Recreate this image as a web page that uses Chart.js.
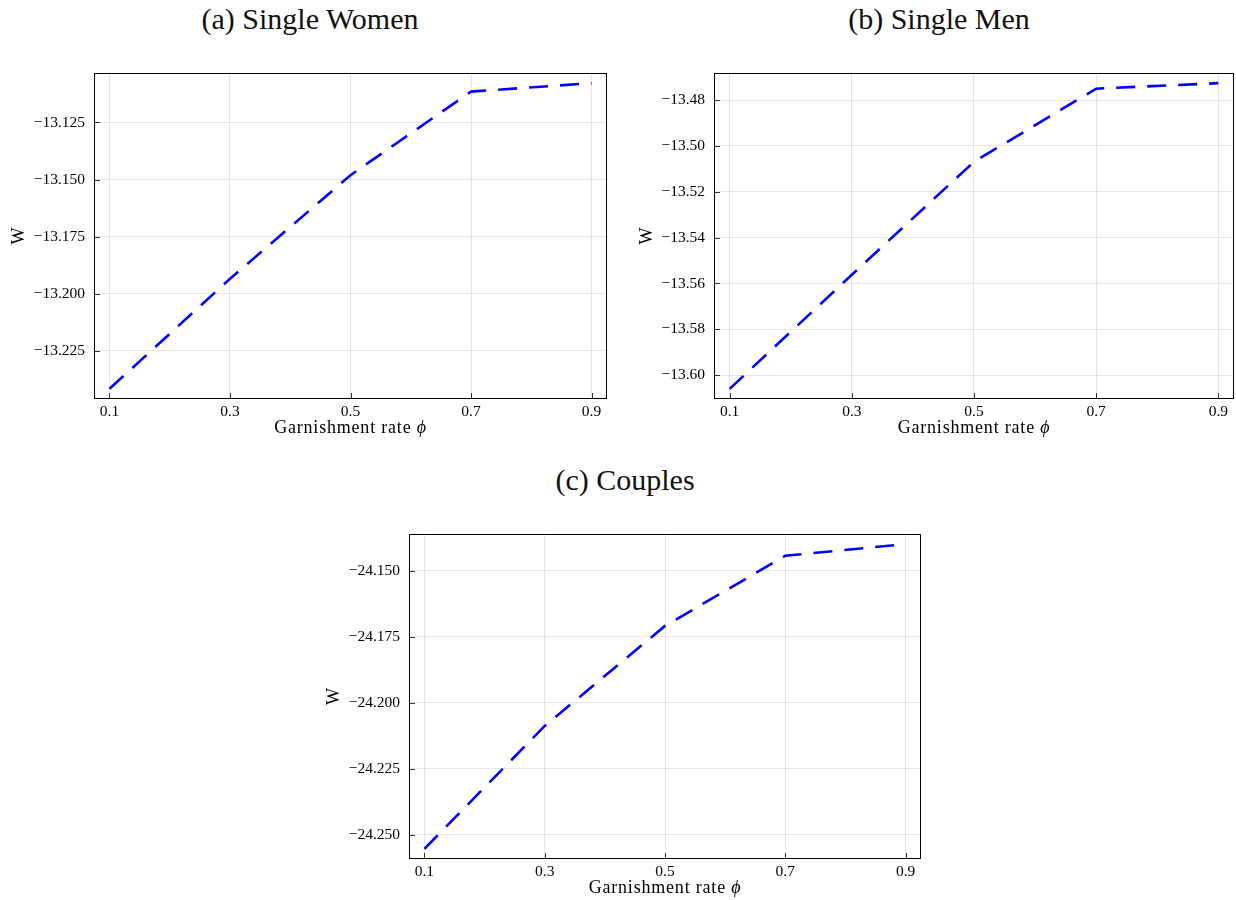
<!DOCTYPE html>
<html>
<head>
<meta charset="utf-8">
<script src="https://cdn.jsdelivr.net/npm/chart.js@4.4.1/dist/chart.umd.min.js"></script>
<style>
  html, body { margin: 0; padding: 0; background: #fff; }
  body { position: relative; width: 1236px; height: 900px; overflow: hidden; }
  canvas { position: absolute; }
  .panel-title {
    position: absolute; width: 400px; margin-left: -200px;
    text-align: center; font-family: 'Liberation Serif', serif;
    font-size: 30px; line-height: 36px; color: #111;
  }
</style>
</head>
<body>
<div class="panel-title" style="left:310px; top:1px;">(a) Single Women</div>
<div class="panel-title" style="left:939px; top:1px;">(b) Single Men</div>
<div class="panel-title" style="left:625px; top:462px;">(c) Couples</div>

<canvas id="women" width="620" height="385" style="left:0; top:60px;"></canvas>
<canvas id="men" width="616" height="385" style="left:620px; top:60px;"></canvas>
<canvas id="couples" width="620" height="378" style="left:310px; top:521px;"></canvas>

<script>
// garnishment rates on the x axis
const phi = [0.1, 0.3, 0.5, 0.7, 0.9];
const phiTicks = [0.1, 0.3, 0.5, 0.7, 0.9];

// welfare W for each household type
const womenW = [-13.2417, -13.1935, -13.1481, -13.1115, -13.1078];
const menW = [-13.6060, -13.5562, -13.5069, -13.4750, -13.4726];
const couplesW = [-24.2554, -24.2088, -24.1709, -24.1443, -24.1399];

const womenTicks = [-13.225, -13.200, -13.175, -13.150, -13.125];
const menTicks = [-13.60, -13.58, -13.56, -13.54, -13.52, -13.50, -13.48];
const couplesTicks = [-24.250, -24.225, -24.200, -24.175, -24.150];

const SERIF = "'Liberation Serif', 'Times New Roman', serif";

function fmt(v, d) {
  const s = Math.abs(v).toFixed(d);
  return v < 0 ? '\u2212' + s : s;
}

// widen a range by 3% on each side, like the plotting defaults
function padded(vals) {
  const lo = Math.min(...vals), hi = Math.max(...vals);
  const p = (hi - lo) * 0.03;
  return [lo - p, hi + p];
}

// fixed axis sizes, and no extra room reserved for overhanging labels
function fixSize(s, dim, size) {
  s[dim] = size;
  s.paddingTop = s.paddingBottom = s.paddingLeft = s.paddingRight = 0;
}

// box frame, inward tick marks and the axis labels
const frameAndLabels = {
  id: 'frameAndLabels',
  afterDraw(chart, args, opts) {
    const { ctx, chartArea: a, scales } = chart;
    ctx.save();
    ctx.strokeStyle = '#333';
    ctx.lineWidth = 1;
    ctx.beginPath();
    scales.y.ticks.forEach(t => {
      const y = Math.round(scales.y.getPixelForValue(t.value)) + 0.5;
      ctx.moveTo(a.left, y); ctx.lineTo(a.left + 5, y);
    });
    scales.x.ticks.forEach(t => {
      const x = Math.round(scales.x.getPixelForValue(t.value)) + 0.5;
      ctx.moveTo(x, a.bottom); ctx.lineTo(x, a.bottom - 5);
    });
    ctx.stroke();

    ctx.strokeStyle = '#000';
    ctx.strokeRect(Math.round(a.left) - 0.5, Math.round(a.top) - 0.5,
      Math.round(a.right - a.left) + 1, Math.round(a.bottom - a.top) + 1);

    // x label: roman text followed by an italic phi
    ctx.fillStyle = '#000';
    ctx.textBaseline = 'middle';
    ctx.letterSpacing = '0.8px';
    const roman = '18px ' + SERIF;
    const ital = 'italic 18px ' + SERIF;
    ctx.font = roman;
    const w1 = ctx.measureText(opts.xText).width;
    ctx.font = ital;
    const w2 = ctx.measureText(opts.xSym).width;
    let x0 = (a.left + a.right) / 2 - (w1 + w2) / 2;
    const yl = a.bottom + 30;
    ctx.textAlign = 'left';
    ctx.font = roman;
    ctx.fillText(opts.xText, x0, yl);
    ctx.font = ital;
    ctx.fillText(opts.xSym, x0 + w1, yl);

    // y label sits a fixed gap left of the widest tick label
    ctx.font = '15.5px ' + SERIF;
    ctx.letterSpacing = '0px';
    let widest = 0;
    scales.y.ticks.forEach(t => {
      widest = Math.max(widest, ctx.measureText(t.label).width);
    });
    const xl = a.left - 10 - widest - 14;
    ctx.font = roman;
    ctx.translate(xl, (a.top + a.bottom) / 2);
    ctx.rotate(-Math.PI / 2);
    ctx.textAlign = 'center';
    ctx.fillText(opts.yText, 0, 0);
    ctx.restore();
  }
};

function makeChart(id, values, yTicks, decimals, layout) {
  const yr = padded(values);
  const xr = padded(phi);
  return new Chart(document.getElementById(id), {
    type: 'line',
    data: {
      datasets: [{
        data: phi.map((x, i) => ({ x: x, y: values[i] })),
        borderColor: '#0000ff',
        borderWidth: 2.6,
        borderDash: [19, 12],
        pointRadius: 0,
        tension: 0,
        fill: false
      }]
    },
    options: {
      responsive: false,
      animation: false,
      devicePixelRatio: 1,
      layout: { padding: layout.padding },
      plugins: {
        legend: { display: false },
        tooltip: { enabled: false },
        frameAndLabels: { xText: 'Garnishment rate ', xSym: '\u03d5', yText: 'W' }
      },
      scales: {
        x: {
          type: 'linear',
          min: xr[0], max: xr[1],
          afterBuildTicks: s => { s.ticks = phiTicks.map(v => ({ value: v })); },
          afterFit: s => fixSize(s, 'height', layout.xHeight),
          grid: { color: 'rgba(0,0,0,0.1)', drawTicks: false },
          border: { display: false },
          ticks: {
            padding: 5,
            color: '#000',
            maxRotation: 0,
            font: { family: SERIF, size: 15.5 },
            callback: v => v.toFixed(1)
          }
        },
        y: {
          min: yr[0], max: yr[1],
          afterBuildTicks: s => { s.ticks = yTicks.map(v => ({ value: v })); },
          afterFit: s => fixSize(s, 'width', layout.yWidth),
          grid: { color: 'rgba(0,0,0,0.1)', drawTicks: false },
          border: { display: false },
          ticks: {
            padding: 10,
            color: '#000',
            font: { family: SERIF, size: 15.5 },
            callback: v => fmt(v, decimals)
          }
        }
      }
    },
    plugins: [frameAndLabels]
  });
}

makeChart('women', womenW, womenTicks, 3,
  { padding: { top: 14, right: 14, left: 0, bottom: 0 }, yWidth: 95, xHeight: 47 });
makeChart('men', menW, menTicks, 2,
  { padding: { top: 14, right: 3, left: 0, bottom: 0 }, yWidth: 95, xHeight: 47 });
makeChart('couples', couplesW, couplesTicks, 3,
  { padding: { top: 14, right: 10, left: 0, bottom: 0 }, yWidth: 100, xHeight: 41 });
</script>
</body>
</html>
